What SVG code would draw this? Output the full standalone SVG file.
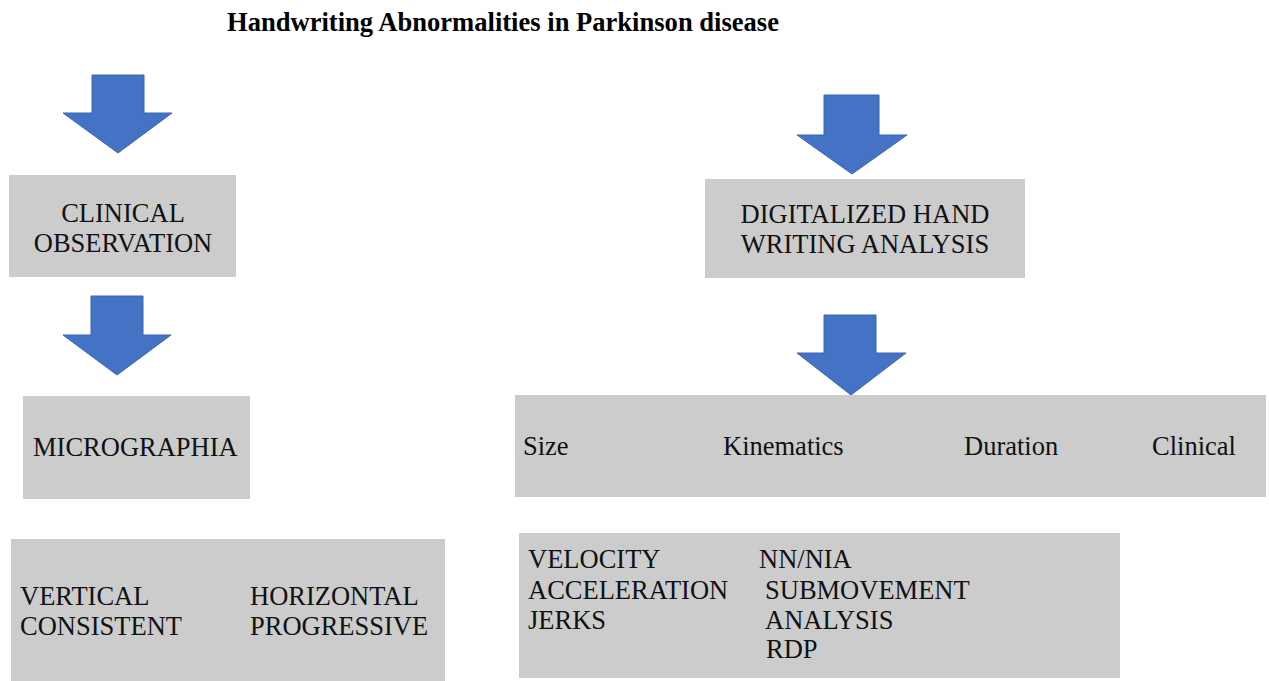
<svg xmlns="http://www.w3.org/2000/svg" width="1269" height="681" viewBox="0 0 1269 681">
<style>
  .box { fill: #CCCCCC; }
  .t { font-family: "Liberation Serif", "Times New Roman", serif; font-size: 26.5px; fill: #111111; }
  .c { text-anchor: middle; }
  .title { font-family: "Liberation Serif", "Times New Roman", serif; font-size: 26.5px; font-weight: bold; fill: #000000; }
  .arrow { fill: #4472C4; stroke: #3B65B3; stroke-width: 1; }
</style>
<rect width="1269" height="681" fill="#FFFFFF"/>
<text id="title" class="title" x="227" y="31" textLength="552" lengthAdjust="spacingAndGlyphs">Handwriting Abnormalities in Parkinson disease</text>

<g id="connectors">
  <polygon class="arrow" points="92,75 144,75 144,113 172,113 118,153 63,113 92,113"/>
  <polygon class="arrow" points="91,296 143,296 143,335 171,335 117,375 63,335 91,335"/>
  <polygon class="arrow" points="824,95 879,95 879,135 907,135 852,174 797,135 824,135"/>
  <polygon class="arrow" points="824,315 876,315 876,353 906,353 851,395 797,353 824,353"/>
</g>

<g id="clinical-observation">
  <rect class="box" x="9" y="175" width="227" height="102"/>
  <text class="t c" x="123" y="222">CLINICAL</text>
  <text class="t c" x="123" y="252">OBSERVATION</text>
</g>

<g id="micrographia">
  <rect class="box" x="23" y="396" width="227" height="103"/>
  <text class="t" x="33" y="456">MICROGRAPHIA</text>
</g>

<g id="micrographia-types">
  <rect class="box" x="11" y="539" width="434" height="142"/>
  <text class="t" x="20" y="605">VERTICAL</text>
  <text class="t" x="20" y="635">CONSISTENT</text>
  <text class="t" x="250" y="605">HORIZONTAL</text>
  <text class="t" x="250" y="635">PROGRESSIVE</text>
</g>

<g id="digitalized-analysis">
  <rect class="box" x="705" y="179" width="320" height="99"/>
  <text class="t c" x="865" y="223">DIGITALIZED HAND</text>
  <text class="t c" x="865" y="253">WRITING ANALYSIS</text>
</g>

<g id="measures">
  <rect class="box" x="515" y="395" width="751" height="102"/>
  <text class="t" x="523" y="455">Size</text>
  <text class="t" x="723" y="455">Kinematics</text>
  <text class="t" x="964" y="455">Duration</text>
  <text class="t" x="1152" y="455">Clinical</text>
</g>

<g id="kinematic-details">
  <rect class="box" x="519" y="533" width="601" height="145"/>
  <text class="t" x="528" y="568">VELOCITY</text>
  <text class="t" x="528" y="599">ACCELERATION</text>
  <text class="t" x="528" y="629">JERKS</text>
  <text class="t" x="759" y="568">NN/NIA</text>
  <text class="t" x="765" y="599">SUBMOVEMENT</text>
  <text class="t" x="765" y="629">ANALYSIS</text>
  <text class="t" x="766" y="658">RDP</text>
</g>
</svg>
